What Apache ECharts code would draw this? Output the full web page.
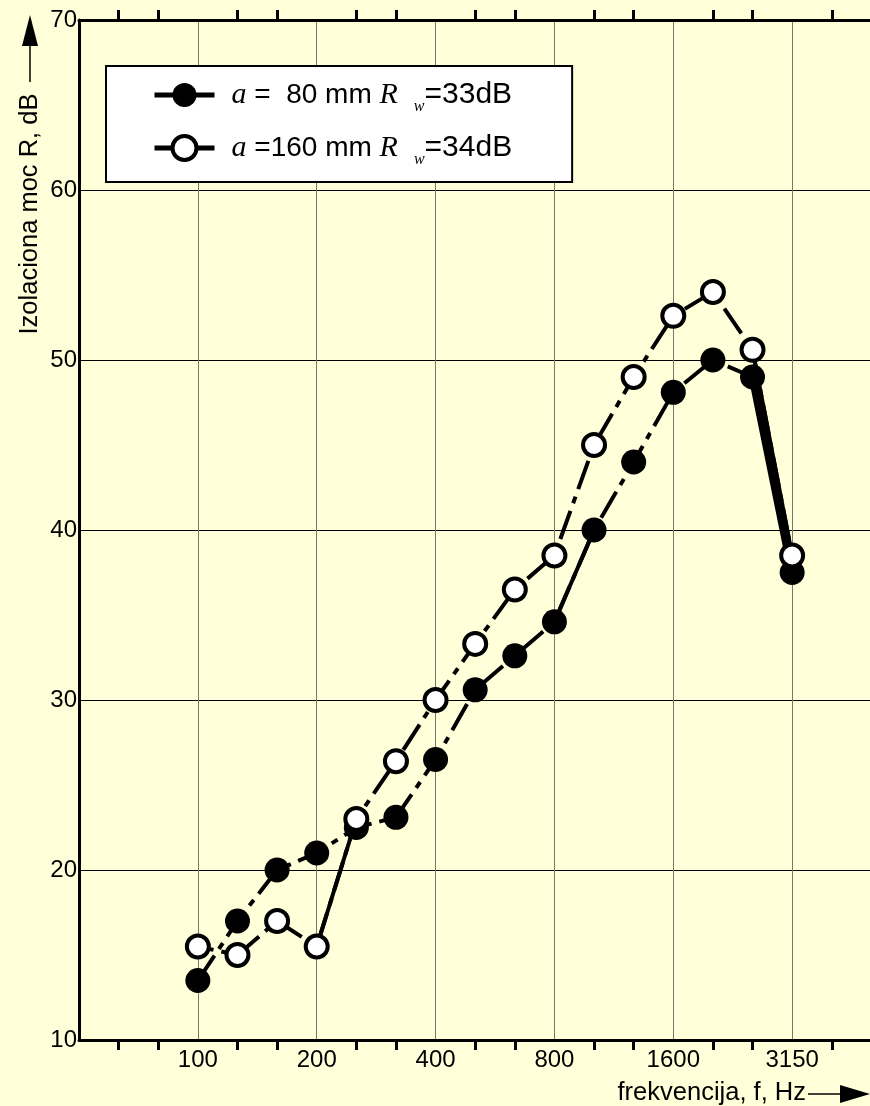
<!DOCTYPE html>
<html>
<head>
<meta charset="utf-8">
<script src="https://cdn.jsdelivr.net/npm/echarts@6/dist/echarts.min.js"></script>
<style>
html, body { margin: 0; padding: 0; background: #FFFFD9; }
#chart { width: 870px; height: 1106px; }
</style>
</head>
<body>
<div id="chart"></div>
<script>
// third-octave bands, index 0 = 100 Hz
const freqLabels = ['100', '125', '160', '200', '250', '315', '400', '500', '630', '800', '1000', '1250', '1600', '2000', '2500', '3150']
const shownLabels = ['100', '200', '400', '800', '1600', '3150']
const r80 = [13.5, 17, 20, 21, 22.5, 23.1, 26.5, 30.6, 32.6, 34.6, 40, 44, 48.1, 50, 49, 37.5]
const r160 = [15.5, 15, 17, 15.5, 23, 26.4, 30, 33.3, 36.5, 38.5, 45, 49, 52.6, 54, 50.6, 38.5]
const seriesNames = ['a = 80 mm Rw=33dB', 'a =160 mm Rw=34dB']
const legendParts = [[' =  80 mm ', '=33dB'], [' =160 mm ', '=34dB']]

const FONT = "'Liberation Sans', Arial, sans-serif"
const SERIF = "'Liberation Serif', 'Times New Roman', serif"
const DASH = [30, 8, 7, 8]

const chart = echarts.init(document.getElementById('chart'))

function toPoints(values) {
  return values.map((v, i) => [i, v])
}

// parts of the curves that are drawn solid in the original
function solidPart(values, from, to) {
  return toPoints(values).slice(from, to + 1)
}

const baseX = {
  type: 'value',
  min: -3,
  max: 18,
  interval: 3,
  axisLine: { show: true, onZero: false, lineStyle: { color: '#000', width: 3 } },
  axisTick: { show: false },
  minorTick: { show: true, splitNumber: 3, length: 10, lineStyle: { color: '#000', width: 3 } },
  minorSplitLine: { show: false },
}

const segment = {
  type: 'line',
  symbol: 'none',
  silent: true,
  z: 2,
}

chart.setOption({
  backgroundColor: '#FFFFD9',
  animation: false,
  grid: { left: 79, top: 20, width: 832, height: 1020, outerBoundsMode: 'none', containLabel: false },
  legend: {
    data: [
      { name: seriesNames[0] },
      { name: seriesNames[1], itemStyle: { borderWidth: 4, borderColor: '#000', color: '#fff' } },
    ],
    left: 106,
    top: 66,
    orient: 'vertical',
    backgroundColor: '#fff',
    borderColor: '#000',
    borderWidth: 2,
    padding: [14, 60, 14, 46],
    itemGap: 18,
    itemWidth: 60,
    itemHeight: 30,
    lineStyle: { type: 'solid', width: 5 },
    formatter: name => {
      const p = legendParts[seriesNames.indexOf(name)]
      return '{a|a}{t|' + p[0] + '}{i|R}{w|w}{u|' + p[1] + '}'
    },
    textStyle: {
      rich: {
        a: { fontFamily: SERIF, fontStyle: 'italic', fontSize: 30, color: '#000', padding: [0, 0, 0, 12] },
        i: { fontFamily: SERIF, fontStyle: 'italic', fontSize: 30, color: '#000' },
        t: { fontFamily: FONT, fontSize: 28, color: '#000' },
        u: { fontFamily: FONT, fontSize: 30, color: '#000' },
        w: { fontFamily: SERIF, fontStyle: 'italic', fontSize: 16, color: '#000', padding: [24, 0, 0, 16] },
      },
    },
  },
  xAxis: [
    Object.assign({}, baseX, {
      position: 'bottom',
      axisLabel: {
        fontFamily: FONT, fontSize: 24, color: '#000', margin: 8,
        formatter: v => (shownLabels.includes(freqLabels[v]) ? freqLabels[v] : ''),
      },
      splitLine: { show: true, lineStyle: { color: '#77776a', width: 1 } },
    }),
    Object.assign({}, baseX, {
      position: 'top',
      axisLabel: { show: false },
      splitLine: { show: false },
    }),
  ],
  yAxis: {
    type: 'value',
    min: 10,
    max: 70,
    interval: 10,
    axisLine: { show: true, onZero: false, lineStyle: { color: '#000', width: 3 } },
    axisTick: { show: false },
    axisLabel: { fontFamily: FONT, fontSize: 24, color: '#000', margin: 2 },
    splitLine: { show: true, lineStyle: { color: '#000', width: 1 } },
  },
  graphic: [
    {
      type: 'text', x: 30, y: 214, rotation: Math.PI / 2,
      style: { text: 'Izolaciona moc R, dB', fontFamily: FONT, fontSize: 25.5, fill: '#000', align: 'center', verticalAlign: 'middle' },
    },
    { type: 'line', shape: { x1: 30, y1: 82, x2: 30, y2: 44 }, style: { stroke: '#000', lineWidth: 1.5 } },
    { type: 'polygon', shape: { points: [[22, 46], [38, 46], [30, 15]] }, style: { fill: '#000' } },
    {
      type: 'text', x: 806, y: 1093,
      style: { text: 'frekvencija, f, Hz', fontFamily: FONT, fontSize: 25.5, fill: '#000', align: 'right', verticalAlign: 'middle' },
    },
    { type: 'line', shape: { x1: 808, y1: 1094, x2: 842, y2: 1094 }, style: { stroke: '#000', lineWidth: 1.5 } },
    { type: 'polygon', shape: { points: [[840, 1085], [840, 1103], [870, 1094]] }, style: { fill: '#000' } },
  ],
  series: [
    {
      name: seriesNames[0],
      type: 'line',
      data: toPoints(r80),
      symbol: 'circle',
      symbolSize: 25,
      itemStyle: { color: '#000' },
      lineStyle: { color: '#000', width: 4, type: DASH },
      z: 3,
    },
    {
      name: seriesNames[1],
      type: 'line',
      data: toPoints(r160),
      symbol: 'circle',
      symbolSize: 22,
      itemStyle: { color: '#fff', borderColor: '#000', borderWidth: 4 },
      lineStyle: { color: '#000', width: 4, type: DASH, dashOffset: 14 },
      z: 4,
    },
    Object.assign({}, segment, { data: solidPart(r80, 14, 15), lineStyle: { color: '#000', width: 8 } }),
    Object.assign({}, segment, { data: solidPart(r160, 14, 15), lineStyle: { color: '#000', width: 4 } }),
    Object.assign({}, segment, { data: solidPart(r160, 3, 4), lineStyle: { color: '#000', width: 4 } }),
    Object.assign({}, segment, { data: solidPart(r80, 9, 10), lineStyle: { color: '#000', width: 4 } }),
  ],
})
</script>
</body>
</html>
